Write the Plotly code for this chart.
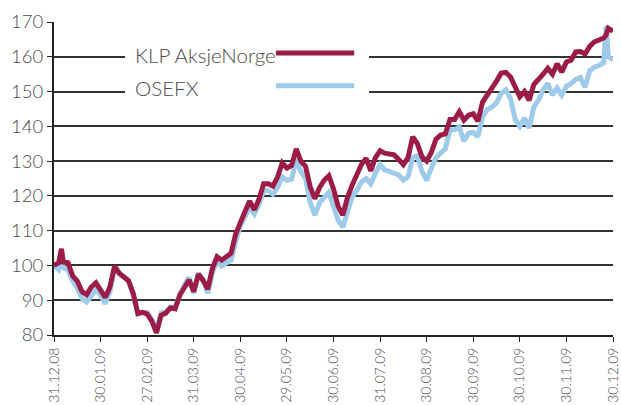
import plotly.graph_objects as go

# sample positions: tenths of a month interval (10 samples per tick interval)
pos = sorted(list(range(121)) + [1.6, 118.5])

tick_pos = list(range(0, 121, 10))
tick_labels = ["31.12.08", "30.01.09", "27.02.09", "31.03.09", "30.04.09", "29.05.09",
               "30.06.09", "31.07.09", "30.08.09", "30.09.09", "30.10.09", "30.11.09", "30.12.09"]

klp = [100, 100.8, 104.8, 101, 100.8, 97, 95.5, 92.5, 91.6, 93.8, 95,
       93, 90.8, 93.8, 99.8, 97.8, 96.8, 95.6, 92, 86.2, 86.5,
       86, 84, 80.6, 85.7, 86.3, 87.8, 87.5, 91.5, 93.6, 95.8,
       92.5, 97.5, 95.7, 93.2, 99.1, 102.5, 101.5, 102.3, 103.5, 109,
       112.5, 115.5, 118.5, 116, 119, 123.5, 123.5, 122.8, 125.5, 129.5,
       128, 128.7, 133.5, 130, 128.5, 122.6, 119.2, 122.4, 124.5, 125.8,
       122, 117, 114.5, 119.5, 123.1, 126, 129, 130.8, 127.2, 131,
       133, 132.3, 132, 131.8, 130.5, 129, 131, 137, 135, 131.2,
       130, 132.5, 136.3, 137.5, 137.8, 142, 142, 144.2, 141.8, 143.2,
       143.6, 141.5, 147, 149, 150.5, 153, 155.3, 155.5, 154.2, 151,
       148.5, 150, 147.5, 152, 153.8, 155, 156.7, 155, 158, 155.6,
       158.5, 159, 161.4, 161.5, 160.8, 163, 164.3, 165, 165.4, 166.2, 168.2,
       167.4]

osefx = [100, 98.8, 102.5, 99.3, 98.7, 95.5, 93.5, 90.5, 89.5, 91.5, 93,
         91.5, 89, 92.5, 99, 97.5, 96.8, 95.5, 91.5, 86, 86.5,
         86.5, 84.5, 81.5, 86.3, 86.6, 88, 88, 91.5, 94.5, 96.5,
         92, 97.8, 96, 92, 97.8, 101.5, 99.8, 100.8, 101.5, 107,
         111.5, 114, 116.8, 114.8, 117.5, 121.5, 121.5, 120.5, 122.5, 125.5,
         124.5, 124.8, 130.5, 127, 125, 118, 114.5, 118, 119.5, 121,
         117, 113, 111, 116, 119.8, 121.5, 124, 125, 123.5, 126.5,
         129, 127.5, 127, 126.5, 126, 124.5, 125.5, 131, 131.5, 127,
         124.5, 128, 131, 132.3, 133.5, 139, 139, 139.8, 135.8, 138,
         138.3, 137, 142.8, 144.8, 145.5, 146.8, 149.5, 150.5, 148, 142,
         140, 142.4, 139.5, 145.5, 147.5, 150.5, 152.3, 149, 151, 149,
         151.5, 152.3, 153.5, 154, 151.2, 156, 157, 157.5, 158.3, 168.8, 160,
         159.2]

series_names = ["KLP AksjeNorge", "OSEFX"]
RED = "#9c1c47"
BLUE = "#9ecbea"
TXT = "#4a4a4a"
GRID = "#333333"
FONT = "Lato"

fig = go.Figure()
fig.add_trace(go.Scatter(x=pos, y=osefx, mode="lines", name=series_names[1],
                         line=dict(color=BLUE, width=5), showlegend=False))
fig.add_trace(go.Scatter(x=pos, y=klp, mode="lines", name=series_names[0],
                         line=dict(color=RED, width=5), showlegend=False))

# legend block (text left, line sample right), covering the gridlines behind it
fig.add_shape(type="rect", xref="paper", yref="paper", x0=0.127, x1=0.5635, y0=0.75, y1=0.945,
              fillcolor="white", line=dict(width=0), layer="above")
fig.add_shape(type="line", xref="paper", yref="paper", x0=0.397, x1=0.537, y0=0.901, y1=0.901,
              line=dict(color=RED, width=5), layer="above")
fig.add_shape(type="line", xref="paper", yref="paper", x0=0.397, x1=0.537, y0=0.796, y1=0.796,
              line=dict(color=BLUE, width=5), layer="above")
fig.add_annotation(text=series_names[0], xref="paper", yref="paper", x=0.141, y=0.895,
                   xanchor="left", yanchor="middle", showarrow=False,
                   font=dict(family=FONT, size=20.5, color=TXT, weight=300))
fig.add_annotation(text=series_names[1], xref="paper", yref="paper", x=0.141, y=0.79,
                   xanchor="left", yanchor="middle", showarrow=False,
                   font=dict(family=FONT, size=20.5, color=TXT, weight=300))

fig.update_layout(
    width=621, height=405,
    margin=dict(l=54, r=8, t=22, b=70, pad=0),
    paper_bgcolor="white", plot_bgcolor="white",
    font=dict(family=FONT, color=TXT),
    xaxis=dict(range=[0, 120], tickvals=tick_pos, ticktext=tick_labels, tickangle=-90,
               automargin=False,
               showgrid=False, zeroline=False, showline=True, linecolor="#222", linewidth=2,
               ticks="outside", ticklen=5, tickcolor="#222", tickwidth=1,
               tickfont=dict(family=FONT, size=14, color=TXT, weight=300)),
    yaxis=dict(range=[80, 170], tickvals=list(range(80, 171, 10)), automargin=False,
               showgrid=True, gridcolor=GRID, gridwidth=1.5, zeroline=False,
               showline=True, linecolor="#222", linewidth=2,
               ticks="outside", ticklen=5, tickcolor="#222", tickwidth=1,
               tickfont=dict(family=FONT, size=18.5, color=TXT, weight=300)),
)

fig.write_html("out.html", config={"displayModeBar": False},
               post_script="document.body.style.margin='0';document.body.style.overflow='hidden';")
